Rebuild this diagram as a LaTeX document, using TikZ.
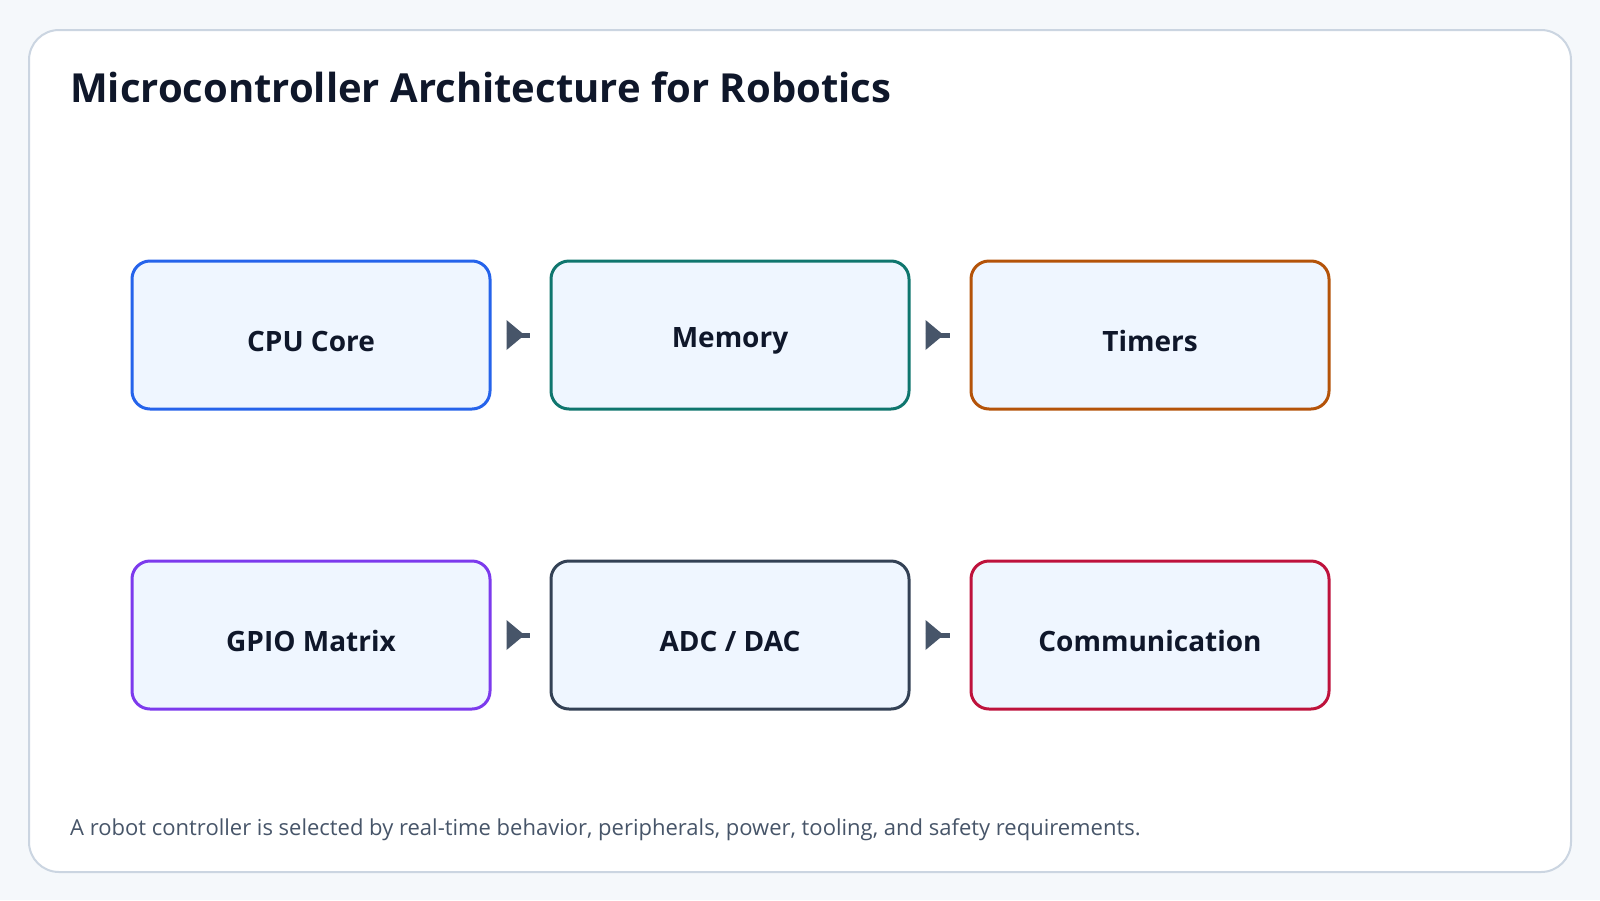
\documentclass[tikz,border=0pt]{standalone}
\usepackage{fontspec}
\setmainfont{Open Sans}
\definecolor{bg}{HTML}{F5F8FB}
\definecolor{cardb}{HTML}{CBD5E1}
\definecolor{boxf}{HTML}{EFF6FF}
\definecolor{ink}{HTML}{0F172A}
\definecolor{sub}{HTML}{475569}
\definecolor{arr}{HTML}{475569}
\definecolor{cA}{HTML}{2563EB}
\definecolor{cB}{HTML}{0F766E}
\definecolor{cC}{HTML}{B45309}
\definecolor{cD}{HTML}{7C3AED}
\definecolor{cE}{HTML}{334155}
\definecolor{cF}{HTML}{BE123C}
\tikzset{
 blk/.style={draw=#1, line width=3pt, fill=boxf, rounded corners=18pt, minimum width=358pt, minimum height=148pt, inner sep=0pt},
 lbl/.style={font=\fontsize{28}{32}\selectfont\bfseries, text=ink},
 conn/.style={draw=arr, line width=5pt, shorten <=15pt, shorten >=20pt},
}
\newcommand{\mytip}[1]{\fill[arr] ([xshift=15pt,yshift=15pt]#1.east) -- ([xshift=33pt]#1.east) -- ([xshift=15pt,yshift=-15pt]#1.east) -- cycle;}
\begin{document}
\begin{tikzpicture}[x=1pt,y=-1pt]
\useasboundingbox (0,0) rectangle (1600,900);
\fill[bg] (0,0) rectangle (1600,900);
\draw[cardb, line width=2pt, fill=white, rounded corners=30pt] (29,30) rectangle (1571,872);
\node[anchor=base west, inner sep=0pt, font=\fontsize{40}{48}\selectfont\bfseries, text=ink] (title) at (70,102) {Microcontroller Architecture for Robotics};
\node[blk=cA] (a) at (311,335) {};
\node[blk=cB] (b) at (730,335) {};
\node[blk=cC] (c) at (1150,335) {};
\node[blk=cD] (d) at (311,635) {};
\node[blk=cE] (e) at (730,635) {};
\node[blk=cF] (f) at (1150,635) {};
\node[lbl] (la) at (311,341) {CPU Core};
\node[lbl] (lb) at (730,341) {Memory};
\node[lbl] (lc) at (1150,341) {Timers};
\node[lbl] (ld) at (311,641) {GPIO Matrix};
\node[lbl] (le) at (730,641) {ADC / DAC};
\node[lbl] (lf) at (1150,641) {Communication};
\draw[conn] (a.east) -- (b.west); \mytip{a}
\draw[conn] (b.east) -- (c.west); \mytip{b}
\draw[conn] (d.east) -- (e.west); \mytip{d}
\draw[conn] (e.east) -- (f.west); \mytip{e}
\node[anchor=base west, inner sep=0pt, font=\fontsize{22}{26}\selectfont, text=sub] (foot) at (70,835) {A robot controller is selected by real-time behavior, peripherals, power, tooling, and safety requirements.};
\end{tikzpicture}
\end{document}
